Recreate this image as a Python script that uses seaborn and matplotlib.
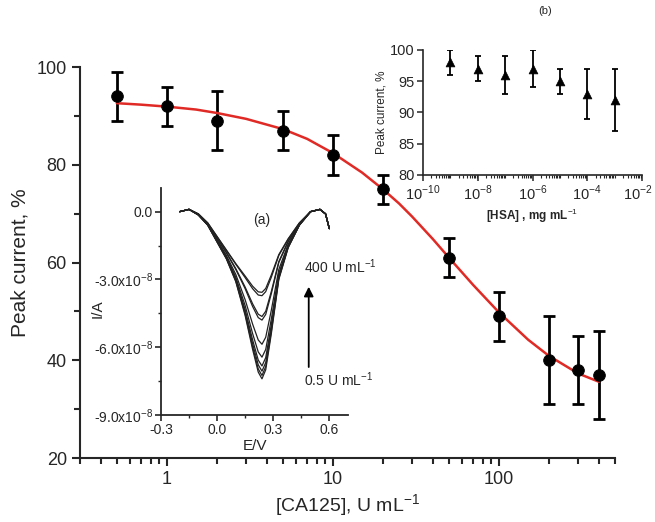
import matplotlib
matplotlib.use("Agg")
import matplotlib.pyplot as plt
import matplotlib.transforms as mtransforms
from matplotlib.ticker import LogLocator, NullFormatter, MultipleLocator, FixedLocator
import seaborn as sns
import pandas as pd

# Main data: CA125 calibration

ca125 = [0.5, 1, 2, 5, 10, 20, 50, 100, 200, 300, 400]
peak = [94, 92, 89, 87, 82, 75, 61, 49, 40, 38, 37]
peak_err = [5, 4, 6, 4, 4, 3, 4, 5, 9, 7, 9]

# Fitted curve

fit_x = [0.5, 0.7, 1, 1.5, 2, 3, 5, 7, 10, 15, 20, 25, 30, 40, 50, 70,
         100, 150, 200, 300, 400]
fit_y = [92.6, 92.3, 91.9, 91.3, 90.6, 89.4, 87.3, 85.3, 82.4, 78.4, 75.0,
         72.1, 69.4, 64.8, 61.0, 55.4, 49.8, 44.2, 40.9, 37.3, 35.6]

# Inset (b): HSA interference

hsa = [1e-9, 1e-8, 1e-7, 1e-6, 1e-5, 1e-4, 1e-3]
hsa_peak = [98, 97, 96, 97, 95, 93, 92]
hsa_err = [2, 2, 3, 3, 2, 4, 5]

# Inset (a): DPV curves, current in units of 1e-8 A

dpv_e = [-0.20, -0.15, -0.10, -0.05, 0.00, 0.05, 0.10, 0.15, 0.19, 0.22,
         0.24, 0.26, 0.29, 0.33, 0.38, 0.44, 0.50, 0.55, 0.58, 0.60]
dpv_i = [
    [0, 0.1, -0.10, -0.50, -1.10, -1.70, -2.30, -2.85, -3.30, -3.55, -3.57, -3.40, -2.80, -1.90, -1.20, -0.50, 0, 0.1, -0.1, -0.75],
    [0, 0.1, -0.10, -0.50, -1.11, -1.72, -2.33, -2.92, -3.41, -3.69, -3.72, -3.54, -2.90, -1.94, -1.22, -0.50, 0, 0.1, -0.1, -0.75],
    [0, 0.1, -0.11, -0.53, -1.17, -1.81, -2.52, -3.34, -4.08, -4.54, -4.64, -4.41, -3.53, -2.21, -1.31, -0.53, 0, 0.1, -0.1, -0.75],
    [0, 0.1, -0.12, -0.53, -1.18, -1.83, -2.56, -3.41, -4.20, -4.69, -4.80, -4.55, -3.63, -2.25, -1.33, -0.53, 0, 0.1, -0.1, -0.75],
    [0, 0.1, -0.13, -0.56, -1.25, -1.94, -2.78, -3.90, -4.98, -5.68, -5.87, -5.56, -4.36, -2.56, -1.44, -0.56, 0, 0.1, -0.1, -0.75],
    [0, 0.1, -0.14, -0.58, -1.29, -2.00, -2.90, -4.16, -5.40, -6.21, -6.44, -6.10, -4.75, -2.73, -1.50, -0.58, 0, 0.1, -0.1, -0.75],
    [0, 0.1, -0.14, -0.59, -1.31, -2.04, -2.98, -4.34, -5.68, -6.57, -6.83, -6.46, -5.01, -2.84, -1.54, -0.59, 0, 0.1, -0.1, -0.75],
    [0, 0.1, -0.15, -0.59, -1.33, -2.06, -3.03, -4.44, -5.85, -6.78, -7.06, -6.68, -5.17, -2.90, -1.56, -0.59, 0, 0.1, -0.1, -0.75],
    [0, 0.1, -0.15, -0.60, -1.34, -2.08, -3.07, -4.53, -5.99, -6.96, -7.25, -6.86, -5.30, -2.96, -1.58, -0.60, 0, 0.1, -0.1, -0.75],
    [0, 0.1, -0.15, -0.60, -1.35, -2.10, -3.10, -4.60, -6.10, -7.10, -7.40, -7.00, -5.40, -3.00, -1.60, -0.60, 0, 0.1, -0.1, -0.75],
]

sns.set_style("ticks")
plt.rcParams['font.family'] = ['Liberation Sans', 'DejaVu Sans']
plt.rcParams['mathtext.fontset'] = 'custom'
plt.rcParams['mathtext.rm'] = 'Liberation Sans'
plt.rcParams['mathtext.bf'] = 'Liberation Sans:bold'

fig = plt.figure(figsize=(6.55, 5.22), dpi=100)

# Main Axes

ax = fig.add_axes([0.1221, 0.1226, 0.8168, 0.749])

ax.errorbar(
    ca125, peak, yerr=peak_err,
    fmt='none', ecolor='black', elinewidth=2, capsize=4, capthick=2,
    zorder=3
)

sns.lineplot(x=fit_x, y=fit_y, ax=ax, color='#e02a25', linewidth=1.8,
             sort=False, zorder=4)

sns.scatterplot(x=ca125, y=peak, ax=ax, color='black', s=70,
                edgecolor='black', zorder=5)

ax.set_xscale('log')
ax.set_xlim(0.3, 500)
ax.set_ylim(20, 100)
ax.xaxis.set_major_locator(FixedLocator([1, 10, 100]))
ax.set_xticklabels(['1', '10', '100'])
ax.xaxis.set_minor_locator(LogLocator(base=10, subs=range(2, 10), numticks=20))
ax.xaxis.set_minor_formatter(NullFormatter())
ax.yaxis.set_major_locator(MultipleLocator(20))
ax.yaxis.set_minor_locator(MultipleLocator(10))

for side in ['top', 'right']:
    ax.spines[side].set_visible(False)
for side in ['left', 'bottom']:
    ax.spines[side].set_linewidth(1.5)

ax.tick_params(which='major', length=6, width=1.5, labelsize=13, direction='out')
ax.tick_params(which='minor', length=4, width=1.5, direction='out')

ax.set_xlabel("[CA125], U mL$^{-1}$", fontsize=14, labelpad=3)
ax.set_ylabel("Peak current, %", fontsize=15, labelpad=5)

# Inset (a): DPV curves

ax_a = fig.add_axes([0.2458, 0.205, 0.2855, 0.435])

rows = []
for k, curve in enumerate(dpv_i):
    for e, i in zip(dpv_e, curve):
        rows.append({'E': e, 'I': i, 'curve': k})
dpv = pd.DataFrame(rows)

sns.lineplot(data=dpv, x='E', y='I', units='curve', estimator=None,
             sort=False, color='#222222', linewidth=0.9, ax=ax_a,
             legend=False)

ax_a.set_xlim(-0.3, 0.7)
ax_a.set_ylim(-9.0, 1.05)
ax_a.xaxis.set_major_locator(FixedLocator([-0.3, 0.0, 0.3, 0.6]))
ax_a.set_xticklabels(['-0.3', '0.0', '0.3', '0.6'])
ax_a.xaxis.set_minor_locator(MultipleLocator(0.15))
ax_a.yaxis.set_major_locator(FixedLocator([0.0, -3.0, -6.0, -9.0]))
ax_a.set_yticklabels(['0.0', '-3.0x10$^{-8}$', '-6.0x10$^{-8}$', '-9.0x10$^{-8}$'])
ax_a.yaxis.set_minor_locator(MultipleLocator(1.5))

for side in ['top', 'right']:
    ax_a.spines[side].set_visible(False)
for side in ['left', 'bottom']:
    ax_a.spines[side].set_linewidth(1.3)

ax_a.tick_params(which='major', length=4, width=1.2, labelsize=10, pad=2)
ax_a.tick_params(which='minor', length=2.5, width=1.0)
ax_a.set_xlabel("E/V", fontsize=11, labelpad=1)
ax_a.set_ylabel("I/A", fontsize=11)
ax_a.yaxis.set_label_coords(-0.30, 0.47)
ax_a.patch.set_alpha(0)

ax_a.text(0.236, -0.35, "(a)", fontsize=10, ha='center', va='center')
ax_a.annotate("", xy=(0.49, -3.2), xytext=(0.49, -7.0),
              arrowprops=dict(arrowstyle='-|>', color='black', lw=1.3,
                              mutation_scale=14))
ax_a.text(0.465, -2.45, "400 U mL$^{-1}$", fontsize=10, ha='left', va='center')
ax_a.text(0.465, -7.45, "0.5 U mL$^{-1}$", fontsize=10, ha='left', va='center')

# Inset (b): HSA

ax_b = fig.add_axes([0.6458, 0.6648, 0.3344, 0.2395])

ax_b.errorbar(hsa, hsa_peak, yerr=hsa_err, fmt='none', ecolor='black',
              elinewidth=1.3, capsize=2.5, capthick=1.3)
sns.scatterplot(x=hsa, y=hsa_peak, ax=ax_b, marker='^', color='black',
                s=40, edgecolor='black', zorder=5)

ax_b.set_xscale('log')
ax_b.set_xlim(1e-10, 1e-2)
ax_b.set_ylim(80, 100)
ax_b.xaxis.set_major_locator(FixedLocator([1e-10, 1e-8, 1e-6, 1e-4, 1e-2]))
ax_b.set_xticklabels(['10$^{-10}$', '10$^{-8}$', '10$^{-6}$', '10$^{-4}$', '10$^{-2}$'])
ax_b.xaxis.set_minor_locator(LogLocator(base=10, subs=range(1, 10), numticks=40))
ax_b.xaxis.set_minor_formatter(NullFormatter())
ax_b.yaxis.set_major_locator(MultipleLocator(5))

for side in ['top', 'right']:
    ax_b.spines[side].set_visible(False)
for side in ['left', 'bottom']:
    ax_b.spines[side].set_linewidth(1.2)

ax_b.tick_params(which='major', length=4, width=1.1, labelsize=10.5, pad=2)
ax_b.tick_params(which='minor', length=2, width=0.8)
ax_b.set_xlabel("[HSA] , mg mL$^{-1}$", fontsize=8.5, fontweight='bold', labelpad=3)
ax_b.set_ylabel("Peak current, %", fontsize=8.5, labelpad=2)
ax_b.patch.set_alpha(0)

# keep the last tick label inside the figure
last = ax_b.get_xticklabels()[-1]
last.set_transform(last.get_transform() +
                   mtransforms.ScaledTranslation(-4 / 100, 0, fig.dpi_scale_trans))

fig.text(0.832, 0.978, "(b)", fontsize=8, ha='center', va='center')

fig.savefig("out.png", dpi=100)
